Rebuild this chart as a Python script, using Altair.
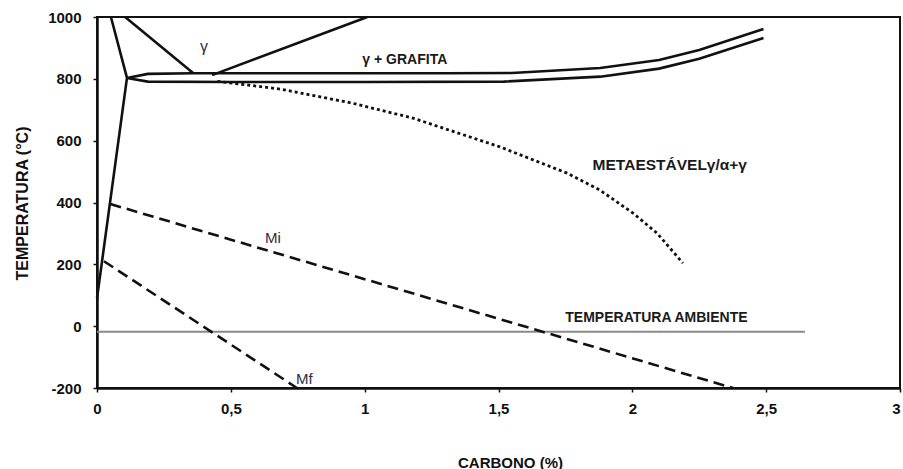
import altair as alt
import pandas as pd

# ---- data ----
# solid boundaries
left_x = [0.052, 0.112, 0.0]
left_y = [1000, 803, 90]
gamma_l_x = [0.105, 0.36]
gamma_l_y = [1000, 818]
gamma_r_x = [0.43, 1.01]
gamma_r_y = [812, 1000]
upper_x = [0.112, 0.19, 0.36, 0.8, 1.3, 1.55, 1.88, 2.1, 2.25, 2.49]
upper_y = [803, 816, 818, 818, 818, 819, 835, 861, 893, 961]
lower_x = [0.112, 0.19, 0.5, 1.0, 1.52, 1.88, 2.1, 2.25, 2.49]
lower_y = [803, 791, 790, 790, 791, 807, 833, 865, 932]
# dotted metastable curve
meta_x = [0.45, 0.684, 0.95, 1.18, 1.505, 1.756, 1.879, 2.002, 2.092, 2.189]
meta_y = [792, 767, 722, 673, 580, 495, 440, 366, 301, 204]
# dashed martensite lines
mi_x = [0.05, 2.376]
mi_y = [395, -200]
mf_x = [0.026, 0.747]
mf_y = [210, -200]
# room temperature line
amb_x = [0.0, 2.645]
amb_y = [-18, -18]

# labels
lab_text = ["γ + GRAFITA", "METAESTÁVELγ/α+γ", "TEMPERATURA AMBIENTE"]
lab_x = [1.15, 2.14, 2.09]
lab_y = [861, 521, 26]
lab_size = [14, 15.5, 14]
mlab_text = ["γ", "Mi", "Mf"]
mlab_x = [0.40, 0.657, 0.775]
mlab_y = [902, 285, -170]
mlab_size = [16, 15, 15]

x_ticks = [0, 0.5, 1, 1.5, 2, 2.5, 3]
y_ticks = [-200, 0, 200, 400, 600, 800, 1000]


def series(name, xs, ys):
    return pd.DataFrame({"s": name, "o": list(range(len(xs))), "x": xs, "y": ys})


solid = pd.concat([
    series("left", left_x, left_y),
    series("gl", gamma_l_x, gamma_l_y),
    series("gr", gamma_r_x, gamma_r_y),
    series("up", upper_x, upper_y),
    series("lo", lower_x, lower_y),
])
dashed = pd.concat([series("mi", mi_x, mi_y), series("mf", mf_x, mf_y)])
dotted = series("meta", meta_x, meta_y)
amb = series("amb", amb_x, amb_y)
labels = pd.DataFrame({"t": lab_text, "x": lab_x, "y": lab_y, "fs": lab_size})
mlabels = pd.DataFrame({"t": mlab_text, "x": mlab_x, "y": mlab_y, "fs": mlab_size})

xs = alt.Scale(domain=[0, 3], nice=False, zero=False)
ys = alt.Scale(domain=[-200, 1000], nice=False, zero=False)

common = dict(
    grid=False, domainColor="#111", domainWidth=2.5, tickColor="#111", tickWidth=1.5, tickSize=4,
    labelFont="Liberation Sans", labelFontSize=15, labelFontWeight="bold", labelColor="#111",
    titleFont="Liberation Sans", titleFontWeight="bold", titleColor="#111",
)

X = alt.X("x:Q", scale=xs, axis=alt.Axis(
    values=x_ticks, title="CARBONO (%)",
    labelExpr="replace(toString(datum.value), '.', ',')",
    labelAlign={"condition": {"test": "datum.value >= 3", "value": "right"}, "value": "center"},
    labelFlush=False, labelPadding=9, titleFontSize=15,
    titleX=413, titleY=74, titleBaseline="middle", titleAnchor="start", titleAlign="center",
    **common))
Y = alt.Y("y:Q", scale=ys, axis=alt.Axis(
    values=y_ticks, title="TEMPERATURA (°C)",
    labelExpr="toString(datum.value)", labelPadding=12, titleFontSize=16,
    titleX=-75, titleY=186, titleAngle=270, titleBaseline="middle", titleAlign="center",
    titleAnchor="start", **common))

l_solid = alt.Chart(solid).mark_line(color="#111", strokeWidth=2.6).encode(
    x=X, y=Y, detail="s:N", order="o:Q")
l_dash = alt.Chart(dashed).mark_line(color="#111", strokeWidth=2.6, strokeDash=[11, 6]).encode(
    x="x:Q", y="y:Q", detail="s:N", order="o:Q")
l_dot = alt.Chart(dotted).mark_line(color="#111", strokeWidth=2.8, strokeDash=[3, 3]).encode(
    x="x:Q", y="y:Q", detail="s:N", order="o:Q")
l_amb = alt.Chart(amb).mark_line(color="#8a8a8a", strokeWidth=2).encode(
    x="x:Q", y="y:Q", detail="s:N", order="o:Q")

t_lab = alt.Chart(labels).mark_text(font="Liberation Sans", fontWeight="bold",
                                    color="#1a1a1a").encode(
    x="x:Q", y="y:Q", text="t:N", size=alt.Size("fs:Q", scale=None, legend=None))
t_m = alt.Chart(mlabels).mark_text(font="Liberation Sans",
                                   color="#2b3040").encode(
    x="x:Q", y="y:Q", text="t:N", size=alt.Size("fs:Q", scale=None, legend=None))

chart = alt.layer(l_amb, l_solid, l_dash, l_dot, t_lab, t_m).properties(
    width=803, height=371,
    background="white",
    autosize=alt.AutoSizeParams(type="none"),
    padding={"left": 97, "top": 17, "right": 3, "bottom": 81},
).configure_view(stroke="#111", strokeWidth=2)

chart.save("out.html", embed_options={"renderer": "svg", "actions": False})
